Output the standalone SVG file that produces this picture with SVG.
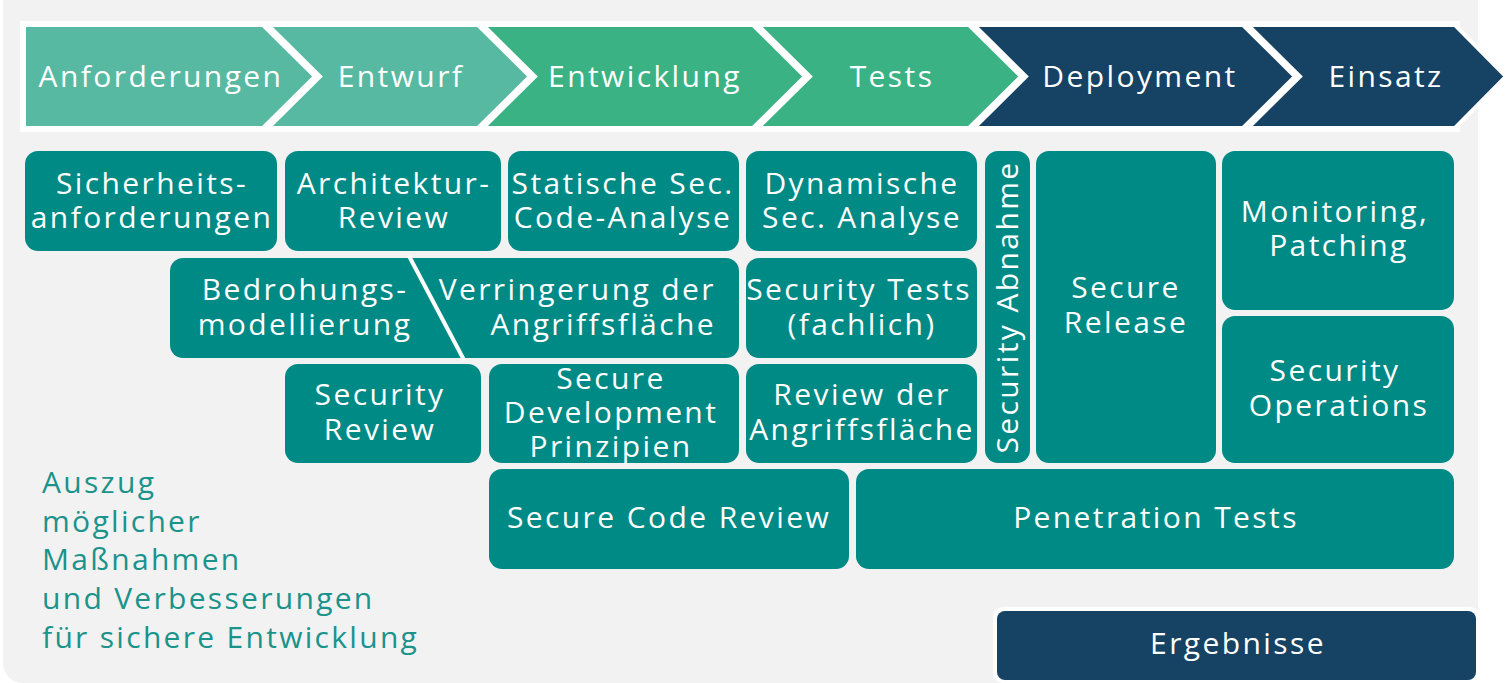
<svg xmlns="http://www.w3.org/2000/svg" width="1511" height="683" viewBox="0 0 1511 683">
  <style>
    .lbl { font-family: "Open Sans", "Liberation Sans", sans-serif; font-size: 30px; fill: #ffffff; text-anchor: middle; letter-spacing: 2.4px; }
    .phase { font-family: "Open Sans", "Liberation Sans", sans-serif; font-size: 30px; fill: #ffffff; text-anchor: middle; letter-spacing: 2.4px; }
    .box { fill: #008a86; }
    .chev { stroke: #ffffff; stroke-width: 4; stroke-linejoin: miter; }
    .c1 { fill: #57b9a2; }
    .c2 { fill: #3ab284; }
    .c3 { fill: #164263; }
    .note { font-family: "Open Sans", "Liberation Sans", sans-serif; font-size: 30px; fill: #1a938b; letter-spacing: 2.3px; }
  </style>

  <!-- panel -->
  <rect x="3" y="-20" width="1475" height="703" rx="20" fill="#f2f2f2"/>

  <!-- phase band -->
  <g id="phases">
    <rect x="20" y="21" width="1440" height="111" fill="#ffffff"/>
    <g id="phase-anforderungen">
      <polygon class="chev c1" points="24,25 263,25 315,76.5 263,128 24,128"/>
      <text class="phase" x="161" y="87">Anforderungen</text>
    </g>
    <g id="phase-entwurf">
      <polygon class="chev c1" points="268,25 478,25 530,76.5 478,128 268,128 320,76.5"/>
      <text class="phase" x="401" y="87">Entwurf</text>
    </g>
    <g id="phase-entwicklung">
      <polygon class="chev c2" points="483,25 753,25 805,76.5 753,128 483,128 535,76.5"/>
      <text class="phase" x="645" y="87">Entwicklung</text>
    </g>
    <g id="phase-tests">
      <polygon class="chev c2" points="758,25 969,25 1021,76.5 969,128 758,128 810,76.5"/>
      <text class="phase" x="892" y="87">Tests</text>
    </g>
    <g id="phase-deployment">
      <polygon class="chev c3" points="974,25 1243,25 1295,76.5 1243,128 974,128 1026,76.5"/>
      <text class="phase" x="1140" y="87">Deployment</text>
    </g>
    <g id="phase-einsatz">
      <polygon class="chev c3" points="1248,25 1455,25 1506,76.5 1455,128 1248,128 1300,76.5"/>
      <text class="phase" x="1386" y="87">Einsatz</text>
    </g>
  </g>

  <!-- measures -->
  <g id="sicherheitsanforderungen">
    <rect class="box" x="25" y="151" width="252" height="100" rx="13"/>
    <text class="lbl" x="152" y="194">Sicherheits-</text>
    <text class="lbl" x="152" y="228">anforderungen</text>
  </g>
  <g id="architektur-review">
    <rect class="box" x="285" y="151" width="216" height="100" rx="13"/>
    <text class="lbl" x="394" y="194">Architektur-</text>
    <text class="lbl" x="394" y="228">Review</text>
  </g>
  <g id="statische-analyse">
    <rect class="box" x="508" y="151" width="231" height="100" rx="13"/>
    <text class="lbl" x="623" y="194">Statische Sec.</text>
    <text class="lbl" x="623" y="228">Code-Analyse</text>
  </g>
  <g id="dynamische-analyse">
    <rect class="box" x="746" y="151" width="231" height="100" rx="13"/>
    <text class="lbl" x="862" y="194">Dynamische</text>
    <text class="lbl" x="862" y="228">Sec. Analyse</text>
  </g>

  <g id="bedrohungsmodellierung-verringerung">
    <rect class="box" x="170" y="258" width="569" height="100" rx="13"/>
    <line x1="409" y1="256" x2="464" y2="360" stroke="#ffffff" stroke-width="4"/>
    <text class="lbl" x="305" y="300">Bedrohungs-</text>
    <text class="lbl" x="305" y="335">modellierung</text>
    <text class="lbl" x="716" y="300" style="text-anchor:end">Verringerung der</text>
    <text class="lbl" x="716" y="335" style="text-anchor:end">Angriffsfläche</text>
  </g>
  <g id="security-tests">
    <rect class="box" x="746" y="258" width="231" height="100" rx="13"/>
    <text class="lbl" x="859" y="300">Security Tests</text>
    <text class="lbl" x="862" y="335">(fachlich)</text>
  </g>

  <g id="security-review">
    <rect class="box" x="285" y="364" width="196" height="99" rx="13"/>
    <text class="lbl" x="380" y="405">Security</text>
    <text class="lbl" x="380" y="440">Review</text>
  </g>
  <g id="secure-development">
    <rect class="box" x="489" y="364" width="250" height="99" rx="13"/>
    <text class="lbl" x="611" y="389">Secure</text>
    <text class="lbl" x="611" y="423">Development</text>
    <text class="lbl" x="611" y="457">Prinzipien</text>
  </g>
  <g id="review-angriffsflaeche">
    <rect class="box" x="746" y="364" width="231" height="99" rx="13"/>
    <text class="lbl" x="862" y="405">Review der</text>
    <text class="lbl" x="862" y="440">Angriffsfläche</text>
  </g>

  <g id="security-abnahme">
    <rect class="box" x="985" y="151" width="45" height="312" rx="13"/>
    <text class="lbl" transform="translate(1018,307) rotate(-90)" x="0" y="0">Security Abnahme</text>
  </g>
  <g id="secure-release">
    <rect class="box" x="1036" y="151" width="180" height="312" rx="13"/>
    <text class="lbl" x="1126" y="298">Secure</text>
    <text class="lbl" x="1126" y="333">Release</text>
  </g>
  <g id="monitoring-patching">
    <rect class="box" x="1222" y="151" width="232" height="159" rx="13"/>
    <text class="lbl" x="1335" y="222">Monitoring,</text>
    <text class="lbl" x="1339" y="256">Patching</text>
  </g>
  <g id="security-operations">
    <rect class="box" x="1222" y="316" width="232" height="147" rx="13"/>
    <text class="lbl" x="1335" y="381">Security</text>
    <text class="lbl" x="1339" y="416">Operations</text>
  </g>

  <g id="secure-code-review">
    <rect class="box" x="489" y="469" width="360" height="100" rx="13"/>
    <text class="lbl" x="669" y="528">Secure Code Review</text>
  </g>
  <g id="penetration-tests">
    <rect class="box" x="856" y="469" width="598" height="100" rx="13"/>
    <text class="lbl" x="1156" y="528">Penetration Tests</text>
  </g>

  <!-- caption -->
  <g id="caption">
    <text class="note" x="42" y="493">Auszug</text>
    <text class="note" x="42" y="532">möglicher</text>
    <text class="note" x="42" y="570">Maßnahmen</text>
    <text class="note" x="42" y="609">und Verbesserungen</text>
    <text class="note" x="42" y="648">für sichere Entwicklung</text>
  </g>

  <g id="ergebnisse">
    <rect x="993" y="607" width="487" height="76" rx="10" fill="#ffffff"/>
    <rect x="997" y="611" width="479" height="69" rx="8" fill="#164263"/>
    <text class="lbl" x="1238" y="654">Ergebnisse</text>
  </g>

  <g id="connectors"/>
</svg>
